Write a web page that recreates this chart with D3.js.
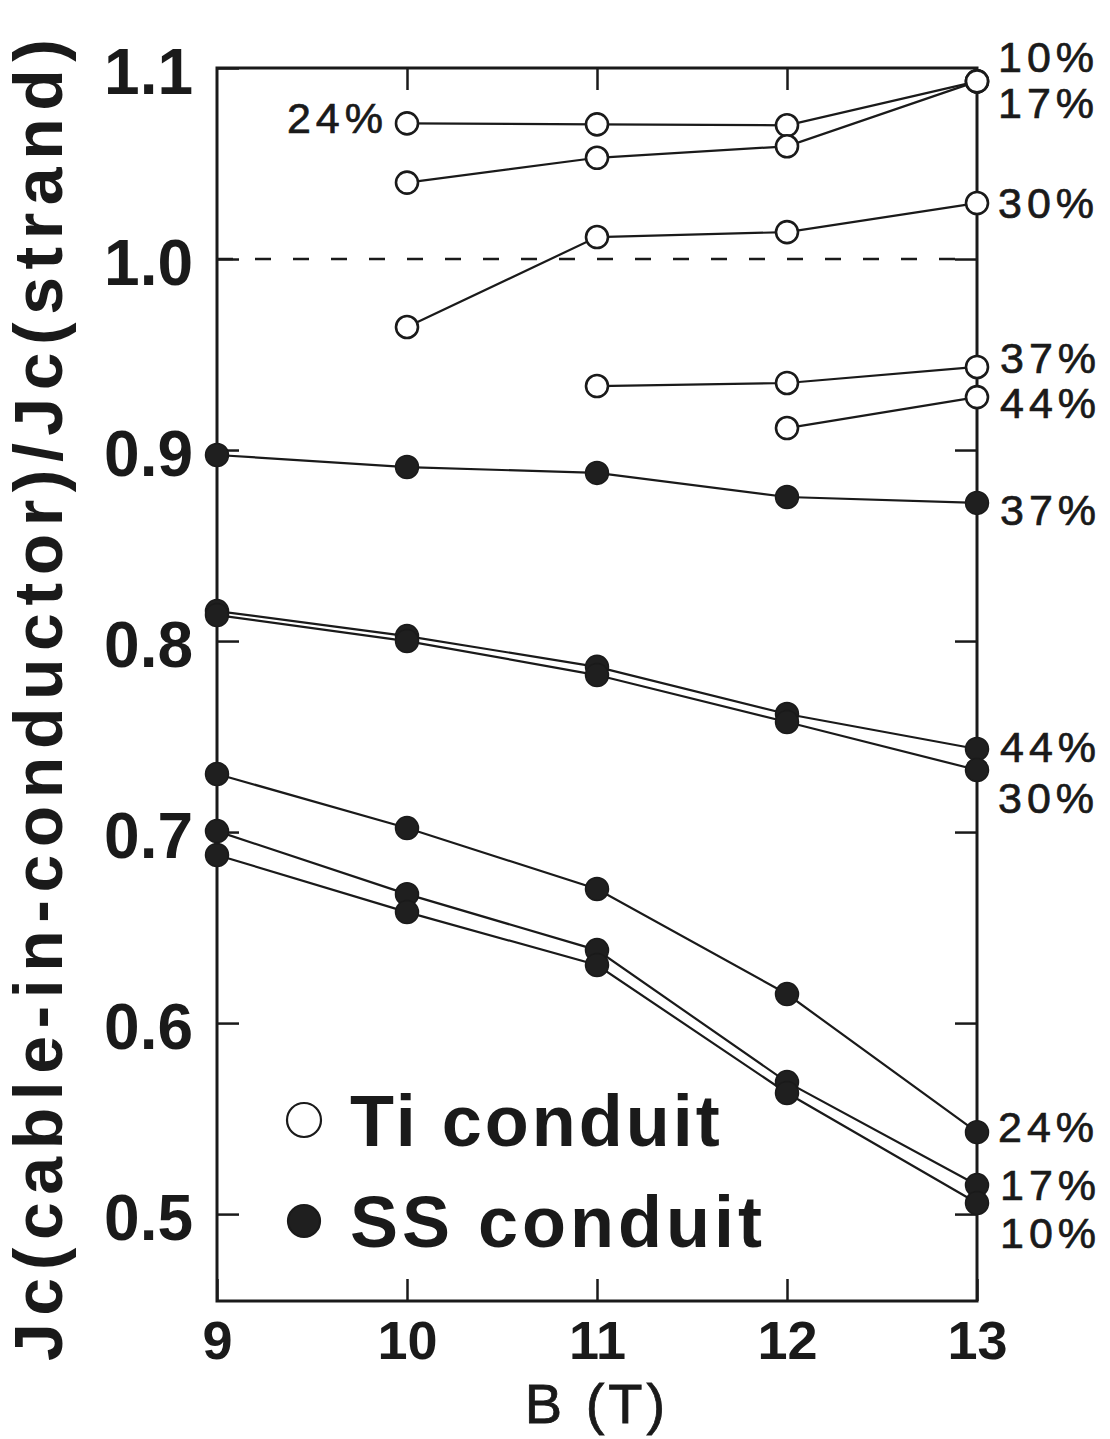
<!DOCTYPE html>
<html>
<head>
<meta charset="utf-8">
<script src="https://cdn.jsdelivr.net/npm/d3@7"></script>
<style>
  html, body { margin: 0; padding: 0; background: #fff; }
  svg { display: block; }
  text { font-family: "Liberation Sans", Arial, Helvetica, sans-serif; fill: #1a1a1a; }
</style>
</head>
<body>
<svg id="chart" width="1110" height="1439"></svg>
<script>
// Magnetic field (T) tick values and normalized Jc tick values
const xTicks = [9, 10, 11, 12, 13];
const yTicks = [0.5, 0.6, 0.7, 0.8, 0.9, 1.0, 1.1];

// Ti conduit samples (open circles): void fraction label, fields, Jc ratio
const tiLabels = ["24%", "17%", "10%", "30%", "37%", "44%"];
const tiB = [
  [10, 11, 12, 13],
  [10, 11, 12, 13],
  [13],
  [10, 11, 12, 13],
  [11, 12, 13],
  [12, 13]
];
const tiJc = [
  [1.071, 1.0705, 1.070, 1.093],
  [1.040, 1.053, 1.059, 1.093],
  [1.093],
  [0.9644, 1.0115, 1.0141, 1.0293],
  [0.9335, 0.9351, 0.9435],
  [0.9115, 0.9277]
];

// SS conduit samples (filled circles)
const ssLabels = ["37%", "44%", "30%", "24%", "17%", "10%"];
const ssB = [9, 10, 11, 12, 13];
const ssJc = [
  [0.8974, 0.8911, 0.8880, 0.8754, 0.8723],
  [0.8157, 0.8026, 0.7865, 0.7618, 0.7435],
  [0.8136, 0.8000, 0.7822, 0.7576, 0.7325],
  [0.7304, 0.7021, 0.6702, 0.6152, 0.5429],
  [0.7005, 0.6675, 0.6382, 0.5691, 0.5152],
  [0.6880, 0.6581, 0.6304, 0.5634, 0.5058]
];

// Legend entries
const legendLabels = ["Ti conduit", "SS conduit"];

// Placement of the void-fraction annotations relative to a series end point
const annot = {
  "Ti 24%": { at: "first", dx: -19, dy: 10, anchor: "end" },
  "Ti 17%": { at: "last", dx: 21, dy: 37, anchor: "start" },
  "Ti 10%": { at: "last", dx: 21, dy: -9, anchor: "start" },
  "Ti 30%": { at: "last", dx: 21, dy: 15, anchor: "start" },
  "Ti 37%": { at: "last", dx: 23, dy: 6, anchor: "start" },
  "Ti 44%": { at: "last", dx: 23, dy: 21, anchor: "start" },
  "SS 37%": { at: "last", dx: 23, dy: 22, anchor: "start" },
  "SS 44%": { at: "last", dx: 23, dy: 13, anchor: "start" },
  "SS 30%": { at: "last", dx: 21, dy: 43, anchor: "start" },
  "SS 24%": { at: "last", dx: 21, dy: 10, anchor: "start" },
  "SS 17%": { at: "last", dx: 23, dy: 15, anchor: "start" },
  "SS 10%": { at: "last", dx: 23, dy: 45, anchor: "start" }
};

const svg = d3.select("#chart");
const plotL = 217, plotR = 977, plotT = 68, plotB = 1301;

const x = d3.scaleLinear().domain([9, 13]).range([plotL, plotR]);
const y = d3.scaleLinear().domain([0.4545, 1.1]).range([plotB, plotT]);

const ink = "#1a1a1a";
const tickLen = 22;

// Axes: ticks point inward on all four sides
const gAxes = svg.append("g");

const axB = gAxes.append("g")
  .attr("transform", `translate(0,${plotB})`)
  .call(d3.axisBottom(x).tickValues(xTicks).tickSize(-tickLen).tickPadding(22)
        .tickFormat(d3.format("d")));
gAxes.append("g")
  .attr("transform", `translate(0,${plotT})`)
  .call(d3.axisTop(x).tickValues(xTicks.slice(1, -1)).tickSize(-tickLen).tickFormat(""));
const axL = gAxes.append("g")
  .attr("transform", `translate(${plotL},0)`)
  .call(d3.axisLeft(y).tickValues(yTicks).tickSize(-tickLen).tickPadding(24)
        .tickFormat(d3.format(".1f")));
gAxes.append("g")
  .attr("transform", `translate(${plotR},0)`)
  .call(d3.axisRight(y).tickValues(yTicks.slice(0, -1)).tickSize(-tickLen).tickFormat(""));

gAxes.selectAll(".domain").remove();
gAxes.selectAll(".tick line").attr("stroke", ink).attr("stroke-width", 2.5);
gAxes.selectAll(".tick text").attr("fill", ink);

axB.selectAll(".tick text")
  .attr("font-size", 54).attr("font-weight", "bold")
  .attr("dy", null).attr("y", 58);

axL.selectAll(".tick text")
  .attr("font-size", 64).attr("font-weight", "bold")
  .attr("dy", "0.36em").attr("y", 2);

// Frame
svg.append("rect")
  .attr("x", plotL).attr("y", plotT)
  .attr("width", plotR - plotL).attr("height", plotB - plotT)
  .attr("fill", "none").attr("stroke", ink).attr("stroke-width", 3);

// Reference line at Jc ratio = 1
svg.append("line")
  .attr("x1", plotL).attr("x2", plotR)
  .attr("y1", y(1.0)).attr("y2", y(1.0))
  .attr("stroke", ink).attr("stroke-width", 2.5)
  .attr("stroke-dasharray", "16,22");

// Build series records
const series = [];
tiLabels.forEach((lab, i) => series.push({
  kind: "Ti", label: lab,
  pts: tiB[i].map((b, j) => ({ b, v: tiJc[i][j] }))
}));
ssLabels.forEach((lab, i) => series.push({
  kind: "SS", label: lab,
  pts: ssB.map((b, j) => ({ b, v: ssJc[i][j] }))
}));

const line = d3.line().x(d => x(d.b)).y(d => y(d.v));

const gLines = svg.append("g");
gLines.selectAll("path")
  .data(series.filter(s => s.pts.length > 1))
  .join("path")
  .attr("d", s => line(s.pts))
  .attr("fill", "none")
  .attr("stroke", ink)
  .attr("stroke-width", 2.2);

// Markers
const gMarks = svg.append("g");
series.forEach(s => {
  gMarks.selectAll(null)
    .data(s.pts)
    .join("circle")
    .attr("cx", d => x(d.b))
    .attr("cy", d => y(d.v))
    .attr("r", s.kind === "Ti" ? 11 : 11.5)
    .attr("fill", s.kind === "Ti" ? "#fff" : "#1f1f1f")
    .attr("stroke", ink)
    .attr("stroke-width", s.kind === "Ti" ? 2.6 : 1.5);
});

// Void-fraction annotations
const gAnn = svg.append("g");
series.forEach(s => {
  const a = annot[s.kind + " " + s.label];
  const p = a.at === "first" ? s.pts[0] : s.pts[s.pts.length - 1];
  gAnn.append("text")
    .attr("x", x(p.b) + a.dx)
    .attr("y", y(p.v) + a.dy)
    .attr("text-anchor", a.anchor)
    .attr("font-size", 43)
    .attr("letter-spacing", 5)
    .attr("stroke", ink)
    .attr("stroke-width", 0.7)
    .text(s.label);
});

// Legend
const gLeg = svg.append("g");
legendLabels.forEach((lab, i) => {
  const cy = 1120 + i * 101;
  gLeg.append("circle")
    .attr("cx", 304).attr("cy", cy).attr("r", i === 0 ? 17 : 16)
    .attr("fill", i === 0 ? "#fff" : "#1f1f1f")
    .attr("stroke", ink).attr("stroke-width", 2.2);
  gLeg.append("text")
    .attr("x", 350).attr("y", cy + 26)
    .attr("font-size", 72).attr("font-weight", "bold")
    .attr("letter-spacing", i === 0 ? 3 : 4)
    .text(lab);
});

// Axis titles
svg.append("text")
  .attr("x", 597).attr("y", 1423)
  .attr("text-anchor", "middle")
  .attr("font-size", 56)
  .attr("letter-spacing", 4)
  .attr("stroke", ink)
  .attr("stroke-width", 0.8)
  .text("B (T)");

svg.append("text")
  .attr("transform", "translate(62,700) rotate(-90)")
  .attr("text-anchor", "middle")
  .attr("font-size", 68)
  .attr("font-weight", "bold")
  .attr("textLength", 1322)
  .attr("lengthAdjust", "spacing")
  .text("Jc(cable-in-conductor)/Jc(strand)");
</script>
</body>
</html>
